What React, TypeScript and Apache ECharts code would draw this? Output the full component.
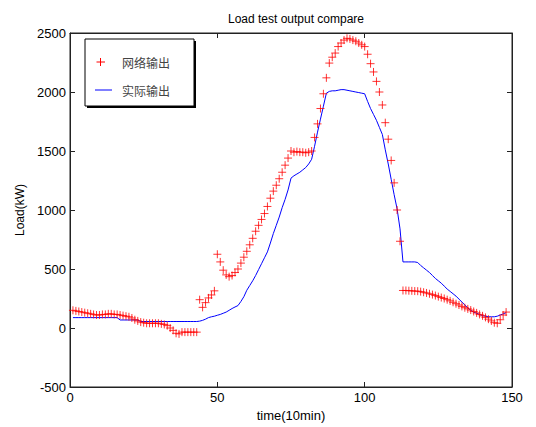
import React, { useEffect, useRef } from "react";
import * as echarts from "echarts";

const chartTitle = "Load test output compare";
const xAxisName = "time(10min)";
const yAxisName = "Load(kW)";
const legendNames = ["网络输出", "实际输出"];
const xRange = [0, 150];
const xInterval = 50;
const yRange = [-500, 2500];
const yInterval = 500;

// network output (red +), one value per 10-min step starting at step 1
const networkOutput = [
  150, 145, 140, 135, 130, 125, 120, 115, 110, 110,
  115, 115, 120, 120, 115, 115, 110, 105, 100, 95,
  85, 70, 60, 50, 45, 40, 40, 40, 40, 40,
  35, 30, 20, 0, -20, -45, -50, -35, -35, -35,
  -35, -35, -35,
  240, 175, 215, 255, 280, 315, 625,
  560, 490, 450, 435, 445, 470, 500, 550, 600, 650,
  705, 760, 820, 870, 920, 970, 1030, 1100, 1160, 1210,
  1265, 1320, 1380, 1440, 1500, 1490, 1495, 1490, 1490, 1485,
  1490, 1500, 1615, 1730, 1860, 1985, 2120, 2245, 2295, 2330,
  2385, 2415, 2440, 2455, 2450, 2440, 2430, 2415, 2400, 2385,
  2320, 2240, 2170, 2090, 2000, 1890, 1740, 1600, 1420, 1230,
  1000, 735,
  318, 318, 316, 315, 313, 312, 308, 303,
  297, 290, 283, 275, 266, 258, 250, 240, 230, 218,
  206, 195, 183, 172, 162, 152, 140, 128, 115, 103,
  90, 75, 60, 45, 40, 70, 110, 135,
];

// actual output (blue line)
const actualOutput = [
  88, 88, 88, 88, 88, 88, 88, 88, 88, 88,
  88, 88, 88, 88, 88, 88,
  68, 68, 68, 68, 68, 68, 68,
  55, 55, 55, 55, 55, 55, 55, 55, 55, 55,
  55, 55, 55, 55, 55, 55, 55, 55, 55, 55,
  58, 65, 75, 88, 95, 100, 108,
  115, 125, 135, 150, 165, 178, 190, 225, 265, 320,
  360, 400, 445, 495, 545, 595, 645, 720, 800, 870,
  940, 1020, 1090, 1170, 1270, 1290, 1305, 1320, 1340, 1360,
  1390, 1430, 1540, 1660, 1770, 1880, 1990, 2005, 2010, 2010,
  2015, 2020, 2020, 2015, 2010, 2005, 2000, 1995, 1990, 1985,
  1920, 1860, 1810, 1760, 1700, 1640, 1510, 1390, 1260, 1130,
  1010, 840, 560, 560, 560, 560, 560, 555, 530, 510,
  490, 470, 445, 420, 400, 380, 355, 330, 310, 290,
  270, 245, 220, 195, 170, 150, 135, 125, 115, 105,
  100, 95, 95, 95, 100, 110, 120, 130,
];

const FONT = "'Liberation Sans', Arial, sans-serif";
const CJK = "'Noto Sans CJK SC', sans-serif";

export default function App() {
  const ref = useRef<HTMLDivElement>(null);
  useEffect(() => {
    if (!ref.current) return;
    const chart = echarts.init(ref.current, undefined, { renderer: "svg" });
    const axisCommon = {
      axisLine: { show: true, onZero: false, lineStyle: { color: "#222", width: 1 } },
      axisTick: { show: true, inside: true, length: 5, lineStyle: { color: "#222" } },
      splitLine: { show: false },
    };
    const plus = "path://M0,5L10,5M5,0L5,10";
    const plain = (v: number) => String(v);
    chart.setOption({
      animation: false,
      backgroundColor: "#fff",
      title: {
        text: chartTitle,
        left: 291,
        textAlign: "center",
        top: 8,
        textStyle: { fontFamily: FONT, fontSize: 12, fontWeight: "normal", color: "#000" },
      },
      grid: { left: 70, top: 33, right: 24, bottom: 37, containLabel: false, show: true, borderColor: "#222", borderWidth: 1, backgroundColor: "transparent" },
      xAxis: [
        {
          type: "value",
          position: "bottom",
          min: xRange[0],
          max: xRange[1],
          interval: xInterval,
          name: xAxisName,
          nameLocation: "middle",
          nameGap: 22,
          nameTextStyle: { fontFamily: FONT, fontSize: 13, color: "#000" },
          axisLabel: { fontFamily: FONT, fontSize: 13, color: "#000", margin: 4, formatter: plain },
          ...axisCommon,
        },
        {
          type: "value",
          position: "top",
          min: xRange[0],
          max: xRange[1],
          interval: xInterval,
          axisLabel: { show: false },
          ...axisCommon,
        },
      ],
      yAxis: [
        {
          type: "value",
          position: "left",
          min: yRange[0],
          max: yRange[1],
          interval: yInterval,
          name: yAxisName,
          nameLocation: "middle",
          nameGap: 41,
          nameRotate: 90,
          nameTextStyle: { fontFamily: FONT, fontSize: 12, color: "#000" },
          axisLabel: { fontFamily: FONT, fontSize: 13, color: "#000", margin: 4, formatter: plain },
          ...axisCommon,
        },
        {
          type: "value",
          position: "right",
          min: yRange[0],
          max: yRange[1],
          interval: yInterval,
          axisLabel: { show: false },
          ...axisCommon,
        },
      ],
      series: [
        {
          name: legendNames[1],
          type: "line",
          data: actualOutput.map((v, i) => [i + 1, v]),
          showSymbol: false,
          symbol: "none",
          lineStyle: { color: "#0000ff", width: 1 },
          z: 2,
        },
        {
          name: legendNames[0],
          type: "scatter",
          data: networkOutput.map((v, i) => [i + 1, v]),
          symbol: plus,
          symbolSize: 8,
          itemStyle: { color: "none", borderColor: "#ff0000", borderWidth: 1 },
          z: 3,
        },
        {
          name: "frame",
          type: "line",
          xAxisIndex: 1,
          yAxisIndex: 1,
          data: [],
          silent: true,
        },
      ],
      graphic: [
        { type: "rect", shape: { x: 87, y: 41, width: 109, height: 67 }, style: { fill: "#000" }, z: 10 },
        { type: "rect", shape: { x: 85, y: 39, width: 109, height: 67 }, style: { fill: "#fff", stroke: "#000", lineWidth: 1 }, z: 11 },
        { type: "line", shape: { x1: 96.5, y1: 62, x2: 105, y2: 62 }, style: { stroke: "#ff0000", lineWidth: 1 }, z: 12 },
        { type: "line", shape: { x1: 100.5, y1: 58, x2: 100.5, y2: 66 }, style: { stroke: "#ff0000", lineWidth: 1 }, z: 12 },
        { type: "line", shape: { x1: 95, y1: 90, x2: 112, y2: 90 }, style: { stroke: "#0000ff", lineWidth: 1 }, z: 12 },
        { type: "text", x: 122, y: 62, style: { text: legendNames[0], fontFamily: CJK, fontSize: 12, fill: "#444", verticalAlign: "middle" }, z: 12 },
        { type: "text", x: 122, y: 90, style: { text: legendNames[1], fontFamily: CJK, fontSize: 12, fill: "#444", verticalAlign: "middle" }, z: 12 },
      ],
    });
    return () => chart.dispose();
  }, []);
  return <div ref={ref} style={{ position: "fixed", left: 0, top: 0, width: 536, height: 427 }} />;
}
